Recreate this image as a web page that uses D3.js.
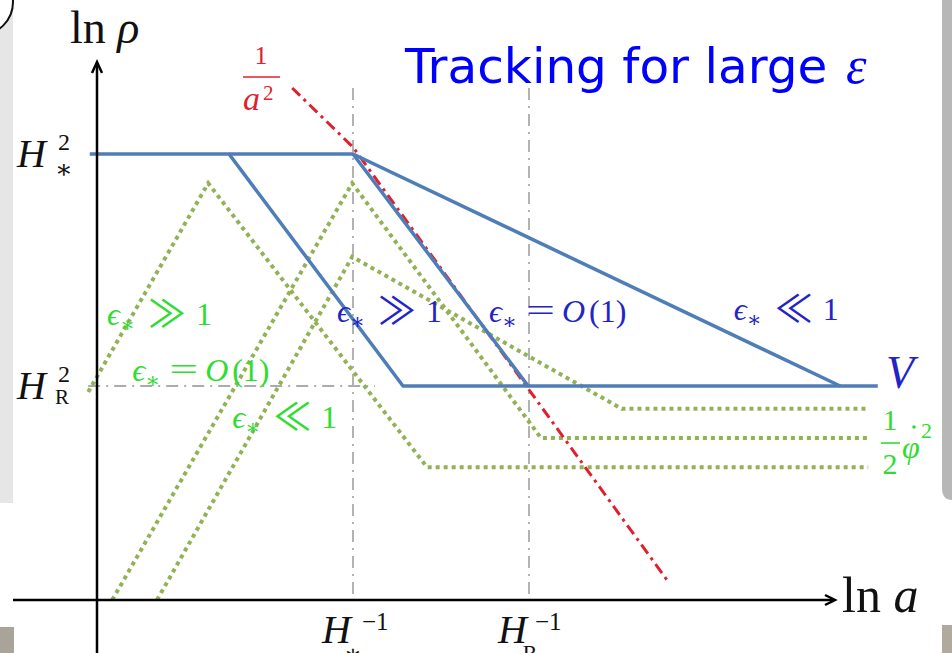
<!DOCTYPE html>
<html>
<head>
<meta charset="utf-8">
<script src="https://cdn.jsdelivr.net/npm/d3@7"></script>
<style>
  body { margin: 0; background: #fff; }
  svg { display: block; }
</style>
</head>
<body>
<svg id="chart" width="952" height="653"></svg>
<script>
// ---- data (ln a, ln rho in arbitrary units) ----
const xMarks = [32, 54];                 // horizon crossings on the ln a axis
const xTickLabels = [
  { base: "H", sub: "∗", sup: "−1" },
  { base: "H", sub: "R", sup: "−1" }
];
const yMarks = [55.75, 26.75];           // energy scales on the ln rho axis
const yTickLabels = [
  { base: "H", sub: "∗", sup: "2" },
  { base: "H", sub: "R", sup: "2" }
];

// potential energy V for eps* >> 1, eps* = O(1), eps* << 1
const potentialStrong = [[-0.9, 55.75], [16.5, 55.75], [38.25, 26.75], [97.6, 26.75]];
const potentialMid    = [[16.5, 55.75], [32, 55.75], [53.9, 26.75]];
const potentialWeak   = [[32, 55.75], [92.9, 26.75]];

// kinetic energy (1/2) phi-dot^2 for the same three cases
const kineticStrong = [[-1.1, 26], [13.9, 52.1], [41.25, 16.6], [96.4, 16.6]];
const kineticMid    = [[1.9, 0], [31.9, 52.1], [55.5, 20.25], [96.4, 20.25]];
const kineticWeak   = [[7.5, 0], [31.9, 42.9], [65.6, 23.9], [96.4, 23.9]];

// radiation background 1/a^2
const radiation = [[24.4, 64], [32, 56.6], [71.25, 2.5]];

// regime labels: [ln a, ln rho] anchor, relation, colour group
const regimeLabels = [
  { at: [1.25, 34.4],  rel: "≫", group: "kinetic" },
  { at: [4.4, 27.4],   rel: "=", group: "kinetic" },
  { at: [16.9, 21.5],  rel: "≪", group: "kinetic" },
  { at: [30.0, 34.75], rel: "≫", group: "potential" },
  { at: [49.0, 34.75], rel: "=", group: "potential" },
  { at: [79.6, 35.0],  rel: "≪", group: "potential" }
];

// ---- scales ----
const svg = d3.select("#chart");
const x = d3.scaleLinear().domain([0, 100]).range([97, 897]);
const y = d3.scaleLinear().domain([0, 70]).range([600, 40]);
const line = d3.line().x(d => x(d[0])).y(d => y(d[1]));

const SERIF = "'Liberation Serif', 'DejaVu Serif', serif";
const BLUE_LINE = "#4f7db8";
const GREEN_LINE = "#93b257";
const GREEN_TEXT = "#30dc30";
const BLUE_TEXT = "#2424c6";
const RED = "#e0202c";
const INK = "#111";

// ---- slide surroundings ----
svg.append("rect").attr("x", 0).attr("y", 0).attr("width", 13).attr("height", 503).attr("fill", "#e6e6e6");
svg.append("circle").attr("cx", -20).attr("cy", 2).attr("r", 33)
  .attr("fill", "#fff").attr("stroke", INK).attr("stroke-width", 2);
svg.append("rect").attr("x", 0).attr("y", 627).attr("width", 14).attr("height", 26).attr("fill", "#a9a49a");
svg.append("path")
  .attr("d", "M942,0 H952 V500 H952 Q942,500 942,488 Z")
  .attr("fill", "#b7b7b7");
svg.append("rect").attr("x", 942).attr("y", 625).attr("width", 10).attr("height", 28).attr("fill", "#b0aa9e");

// ---- reference guides ----
const guides = svg.append("g").attr("fill", "none").attr("stroke", "#ababab")
  .attr("stroke-width", 1.8).attr("stroke-dasharray", "12,6,2,6");
xMarks.forEach(v => {
  guides.append("line").attr("x1", x(v)).attr("x2", x(v)).attr("y1", y(64)).attr("y2", y(0));
});
guides.append("line").attr("x1", x(-1.1)).attr("x2", x(34.75)).attr("y1", y(yMarks[1])).attr("y2", y(yMarks[1]));

// ---- kinetic energy (dotted green) ----
svg.append("g").selectAll("path")
  .data([kineticStrong, kineticMid, kineticWeak])
  .join("path")
  .attr("d", line)
  .attr("fill", "none").attr("stroke", GREEN_LINE).attr("stroke-width", 4)
  .attr("stroke-dasharray", "4,4");

// ---- radiation 1/a^2 (red dash-dot) ----
svg.append("path").datum(radiation).attr("d", line)
  .attr("fill", "none").attr("stroke", RED).attr("stroke-width", 3)
  .attr("stroke-dasharray", "11,5,3,5");

// ---- potential (solid blue) ----
svg.append("g").selectAll("path")
  .data([potentialStrong, potentialMid, potentialWeak])
  .join("path")
  .attr("d", line)
  .attr("fill", "none").attr("stroke", BLUE_LINE).attr("stroke-width", 3.5)
  .attr("stroke-linejoin", "round");

// ---- axes with open arrow heads ----
const ax = svg.append("g").attr("fill", "none").attr("stroke", "#000").attr("stroke-width", 2.5);
ax.append("line").attr("x1", x(0)).attr("x2", x(0)).attr("y1", 653).attr("y2", 63);
ax.append("path").attr("d", `M${x(0) - 5},${73} L${x(0)},${62} L${x(0) + 5},${73}`);
ax.append("line").attr("x1", 13).attr("x2", 834).attr("y1", y(0)).attr("y2", y(0));
ax.append("path").attr("d", `M${825},${y(0) - 5} L${835},${y(0)} L${825},${y(0) + 5}`);

// ---- text helpers ----
function txt(px, py, s, size, fill, opts) {
  const o = opts || {};
  return svg.append("text").attr("x", px).attr("y", py)
    .attr("font-family", o.family || SERIF).attr("font-size", size).attr("fill", fill)
    .attr("font-style", o.italic ? "italic" : null)
    .attr("text-anchor", o.anchor || "start").text(s);
}

// axis titles
const lnRho = txt(70, 43, "ln ", 46, INK);
lnRho.append("tspan").attr("font-style", "italic").text("ρ");
const lnA = txt(842, 612, "ln ", 50, INK);
lnA.append("tspan").attr("font-style", "italic").text("a");

// tick labels on the ln rho axis
yTickLabels.forEach((lab, i) => {
  const py = y(yMarks[i]);
  txt(17, py + 13, lab.base, 40, INK, { italic: true });
  txt(58, py - 4, lab.sup, 24, INK);
  if (lab.sub === "R") txt(55, py + 18, lab.sub, 21, INK);
  else txt(55, py + 24, lab.sub, 26, INK);
});

// tick labels on the ln a axis (subscripts run off the bottom edge)
xTickLabels.forEach((lab, i) => {
  const px = x(xMarks[i]);
  txt(px - 31, 643, lab.base, 40, INK, { italic: true });
  txt(px + (lab.sub === "R" ? 6 : 9), 630, lab.sup, 25, INK);
  if (lab.sub === "R") txt(px + 1, 660, lab.sub, 22, INK, { anchor: "middle" });
  else txt(px, 663, lab.sub, 27, INK, { anchor: "middle" });
});

// 1/a^2 label
txt(261, 64, "1", 26, RED, { anchor: "middle" });
svg.append("line").attr("x1", 243).attr("x2", 280).attr("y1", 77).attr("y2", 77)
  .attr("stroke", RED).attr("stroke-width", 1.6);
txt(243, 110, "a", 34, RED, { italic: true });
txt(263, 100, "2", 21, RED);

// title
const title = txt(405, 83, "Tracking for large ", 48.5, "#0000ff",
  { family: "'DejaVu Sans', Verdana, sans-serif" });
title.append("tspan").attr("x", 846).attr("font-family", SERIF).attr("font-style", "italic")
  .attr("font-size", 52).text("ε");

// regime labels: eps_* with its relation to 1
const REL_FONT = "'Noto Sans CJK JP', 'DejaVu Sans', sans-serif";
regimeLabels.forEach(d => {
  const px = x(d.at[0]);
  const py = y(d.at[1]);
  const fill = d.group === "kinetic" ? GREEN_TEXT : BLUE_TEXT;
  const g = svg.append("g").attr("fill", fill).attr("font-family", SERIF);
  g.append("text").attr("x", px).attr("y", py).attr("font-size", 32).attr("font-style", "italic").text("ϵ");
  g.append("text").attr("x", px + 13).attr("y", py + 7).attr("font-size", 22).text("∗");
  if (d.rel === "=") {
    g.append("text").attr("x", px + 37).attr("y", py - 1).attr("font-size", 32)
      .attr("textLength", 29).attr("lengthAdjust", "spacingAndGlyphs").text("=");
    g.append("text").attr("x", px + 73).attr("y", py).attr("font-size", 32).attr("font-style", "italic").text("O");
    g.append("text").attr("x", px + 100).attr("y", py).attr("font-size", 32).text("(1)");
  } else {
    g.append("text").attr("x", px + 41).attr("y", py + 2).attr("font-size", 38)
      .attr("font-family", REL_FONT).text(d.rel);
    g.append("text").attr("x", px + 89).attr("y", py).attr("font-size", 32).text("1");
  }
});

// series labels on the right
txt(886, 388, "V", 46, BLUE_TEXT, { italic: true });
txt(890, 430, "1", 30, GREEN_TEXT, { anchor: "middle" });
svg.append("line").attr("x1", 881).attr("x2", 900).attr("y1", 443).attr("y2", 443)
  .attr("stroke", GREEN_TEXT).attr("stroke-width", 1.6);
txt(890, 474, "2", 30, GREEN_TEXT, { anchor: "middle" });
txt(902, 458, "φ", 32, GREEN_TEXT, { italic: true });
svg.append("circle").attr("cx", 914).attr("cy", 427).attr("r", 1.8).attr("fill", GREEN_TEXT);
txt(921, 438, "2", 22, GREEN_TEXT);
</script>
</body>
</html>
